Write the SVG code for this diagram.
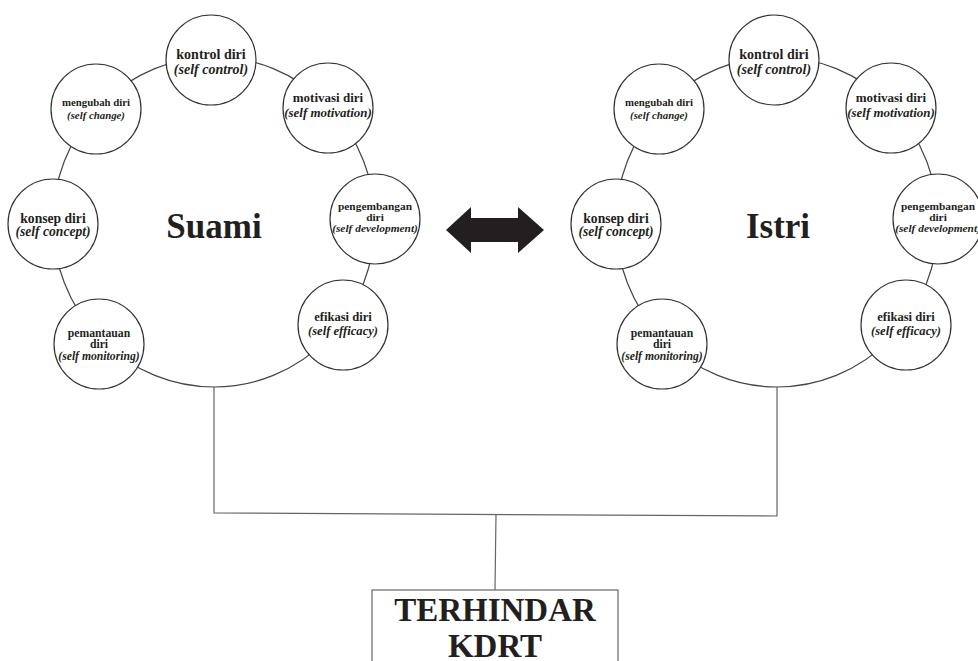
<svg xmlns="http://www.w3.org/2000/svg" width="978" height="661" viewBox="0 0 978 661">
<style>
.ring{fill:none;stroke:#444;stroke-width:1.2}
.node{fill:#fff;stroke:#333;stroke-width:1.2}
.t{font-family:"Liberation Serif","Times New Roman",serif;font-weight:bold;fill:#231f20;text-anchor:middle}
.i{font-style:italic}
.line{fill:none;stroke:#666;stroke-width:1.2}
.big{font-size:35px}
</style>
<rect width="978" height="661" fill="#fff"/>
<g id="connectors">
<polyline class="line" points="214,387 214,513 777,516 777,387"/>
<line class="line" x1="496" y1="514" x2="495" y2="590"/>
<polygon id="arrow" fill="#231f20" points="446,230 471,207 471,218 518,218 518,207 544,230 518,253 518,242 471,242 471,253"/>
</g>
<g id="suami">
<ellipse class="ring" cx="214" cy="222" rx="161" ry="165"/>
<text class="t big" x="214" y="238">Suami</text>
<g id="s-kontrol"><circle class="node" cx="211" cy="60" r="45"/><text class="t" font-size="14" x="211" y="59">kontrol diri</text><text class="t i" font-size="14" x="211" y="74">(self control)</text></g>
<g id="s-mengubah"><circle class="node" cx="96" cy="109" r="45"/><text class="t" font-size="10.8" x="96" y="106">mengubah diri</text><text class="t i" font-size="10.8" x="96" y="119">(self change)</text></g>
<g id="s-motivasi"><circle class="node" cx="328" cy="108" r="45"/><text class="t" font-size="13" x="328" y="102">motivasi diri</text><text class="t i" font-size="13" x="328" y="117">(self motivation)</text></g>
<g id="s-pengembangan"><circle class="node" cx="375" cy="219" r="45"/><text class="t" font-size="11.4" x="375" y="210">pengembangan</text><text class="t" font-size="11.4" x="375" y="221">diri</text><text class="t i" font-size="11.4" x="375" y="232">(self development)</text></g>
<g id="s-konsep"><circle class="node" cx="53" cy="224" r="45"/><text class="t" font-size="13.6" x="53" y="223">konsep diri</text><text class="t i" font-size="13.6" x="53" y="236">(self concept)</text></g>
<g id="s-efikasi"><circle class="node" cx="343" cy="325" r="45"/><text class="t" font-size="12.6" x="343" y="321">efikasi diri</text><text class="t i" font-size="12.6" x="343" y="335">(self efficacy)</text></g>
<g id="s-pemantauan"><circle class="node" cx="99" cy="344" r="45"/><text class="t" font-size="11.7" x="99" y="337">pemantauan</text><text class="t" font-size="11.7" x="99" y="348">diri</text><text class="t i" font-size="11.7" x="99" y="360">(self monitoring)</text></g>
</g>
<g id="istri">
<ellipse class="ring" cx="777" cy="222" rx="161" ry="165"/>
<text class="t big" x="778" y="238">Istri</text>
<g id="i-kontrol"><circle class="node" cx="774" cy="60" r="45"/><text class="t" font-size="14" x="774" y="59">kontrol diri</text><text class="t i" font-size="14" x="774" y="74">(self control)</text></g>
<g id="i-mengubah"><circle class="node" cx="659" cy="109" r="45"/><text class="t" font-size="10.8" x="659" y="106">mengubah diri</text><text class="t i" font-size="10.8" x="659" y="119">(self change)</text></g>
<g id="i-motivasi"><circle class="node" cx="891" cy="108" r="45"/><text class="t" font-size="13" x="891" y="102">motivasi diri</text><text class="t i" font-size="13" x="891" y="117">(self motivation)</text></g>
<g id="i-pengembangan"><circle class="node" cx="938" cy="219" r="45"/><text class="t" font-size="11.4" x="938" y="210">pengembangan</text><text class="t" font-size="11.4" x="938" y="221">diri</text><text class="t i" font-size="11.4" x="938" y="232">(self development)</text></g>
<g id="i-konsep"><circle class="node" cx="616" cy="224" r="45"/><text class="t" font-size="13.6" x="616" y="223">konsep diri</text><text class="t i" font-size="13.6" x="616" y="236">(self concept)</text></g>
<g id="i-efikasi"><circle class="node" cx="906" cy="325" r="45"/><text class="t" font-size="12.6" x="906" y="321">efikasi diri</text><text class="t i" font-size="12.6" x="906" y="335">(self efficacy)</text></g>
<g id="i-pemantauan"><circle class="node" cx="662" cy="344" r="45"/><text class="t" font-size="11.7" x="662" y="337">pemantauan</text><text class="t" font-size="11.7" x="662" y="348">diri</text><text class="t i" font-size="11.7" x="662" y="360">(self monitoring)</text></g>
</g>
<g id="kdrt">
<rect x="372" y="590" width="246" height="90" fill="#fff" stroke="#666" stroke-width="1.2"/>
<text class="t" font-size="33" x="495" y="621">TERHINDAR</text>
<text class="t" font-size="33" x="495" y="657">KDRT</text>
</g>
</svg>
